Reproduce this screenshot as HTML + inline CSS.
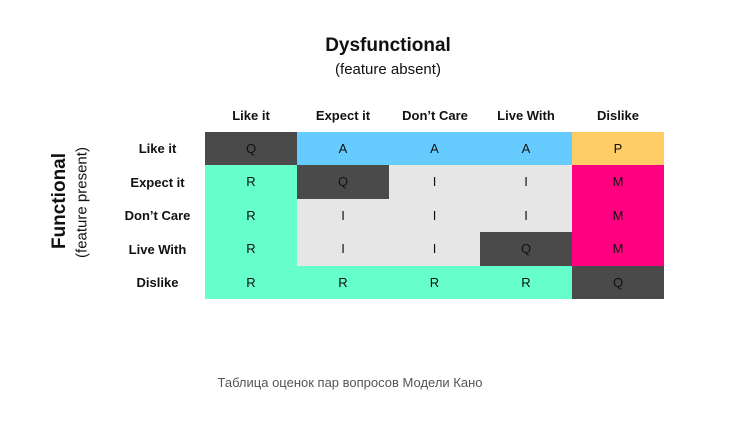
<!DOCTYPE html>
<html><head><style>
body{margin:0;width:736px;height:428px;background:#fff;font-family:"Liberation Sans",sans-serif;position:relative;overflow:hidden}
.a{position:absolute;text-align:center}
.c{position:absolute;width:92px;height:34px;line-height:34px;text-align:center;font-size:13px;color:#111}
.h{position:absolute;font-weight:bold;font-size:13px;color:#111;text-align:center}
</style></head><body>
<div class="a" style="left:288px;top:35px;width:200px;font-size:19px;font-weight:bold;color:#111">Dysfunctional</div>
<div class="a" style="left:288px;top:61px;width:200px;font-size:15px;color:#111">(feature absent)</div>
<div class="h" style="left:205px;top:108px;width:92px">Like it</div>
<div class="h" style="left:297px;top:108px;width:92px">Expect it</div>
<div class="h" style="left:389px;top:108px;width:92px">Don’t Care</div>
<div class="h" style="left:480px;top:108px;width:92px">Live With</div>
<div class="h" style="left:572px;top:108px;width:92px">Dislike</div>
<div class="h" style="left:110px;top:141px;width:95px">Like it</div>
<div class="h" style="left:110px;top:175px;width:95px">Expect it</div>
<div class="h" style="left:110px;top:208px;width:95px">Don’t Care</div>
<div class="h" style="left:110px;top:242px;width:95px">Live With</div>
<div class="h" style="left:110px;top:275px;width:95px">Dislike</div>
<div class="a" style="left:-40px;top:190px;width:200px;transform:rotate(-90deg);font-size:19px;font-weight:bold;color:#111">Functional</div>
<div class="a" style="left:-18px;top:194px;width:200px;transform:rotate(-90deg);font-size:15px;color:#111">(feature present)</div>
<div id="g"></div>
<div class="a" style="left:150px;top:375px;width:400px;font-size:13px;color:#555">Таблица оценок пар вопросов Модели Кано</div>
<script>
var D='#4a4a4a',B='#66ccff',Y='#ffcc66',G='#66ffcc',L='#e6e6e6',M='#ff0080';
var data=[[[D,'Q'],[B,'A'],[B,'A'],[B,'A'],[Y,'P']],
[[G,'R'],[D,'Q'],[L,'I'],[L,'I'],[M,'M']],
[[G,'R'],[L,'I'],[L,'I'],[L,'I'],[M,'M']],
[[G,'R'],[L,'I'],[L,'I'],[D,'Q'],[M,'M']],
[[G,'R'],[G,'R'],[G,'R'],[G,'R'],[D,'Q']]];
var xs=[205,297,389,480,572,664],ys=[132,165,199,232,266,299],h='';
for(var r=0;r<5;r++)for(var c=0;c<5;c++){h+='<div class="c" style="left:'+xs[c]+'px;top:'+ys[r]+'px;width:'+(xs[c+1]-xs[c])+'px;height:'+(ys[r+1]-ys[r])+'px;line-height:'+(ys[r+1]-ys[r])+'px;background:'+data[r][c][0]+'">'+data[r][c][1]+'</div>';}
document.getElementById('g').innerHTML=h;
</script>
</body></html>
